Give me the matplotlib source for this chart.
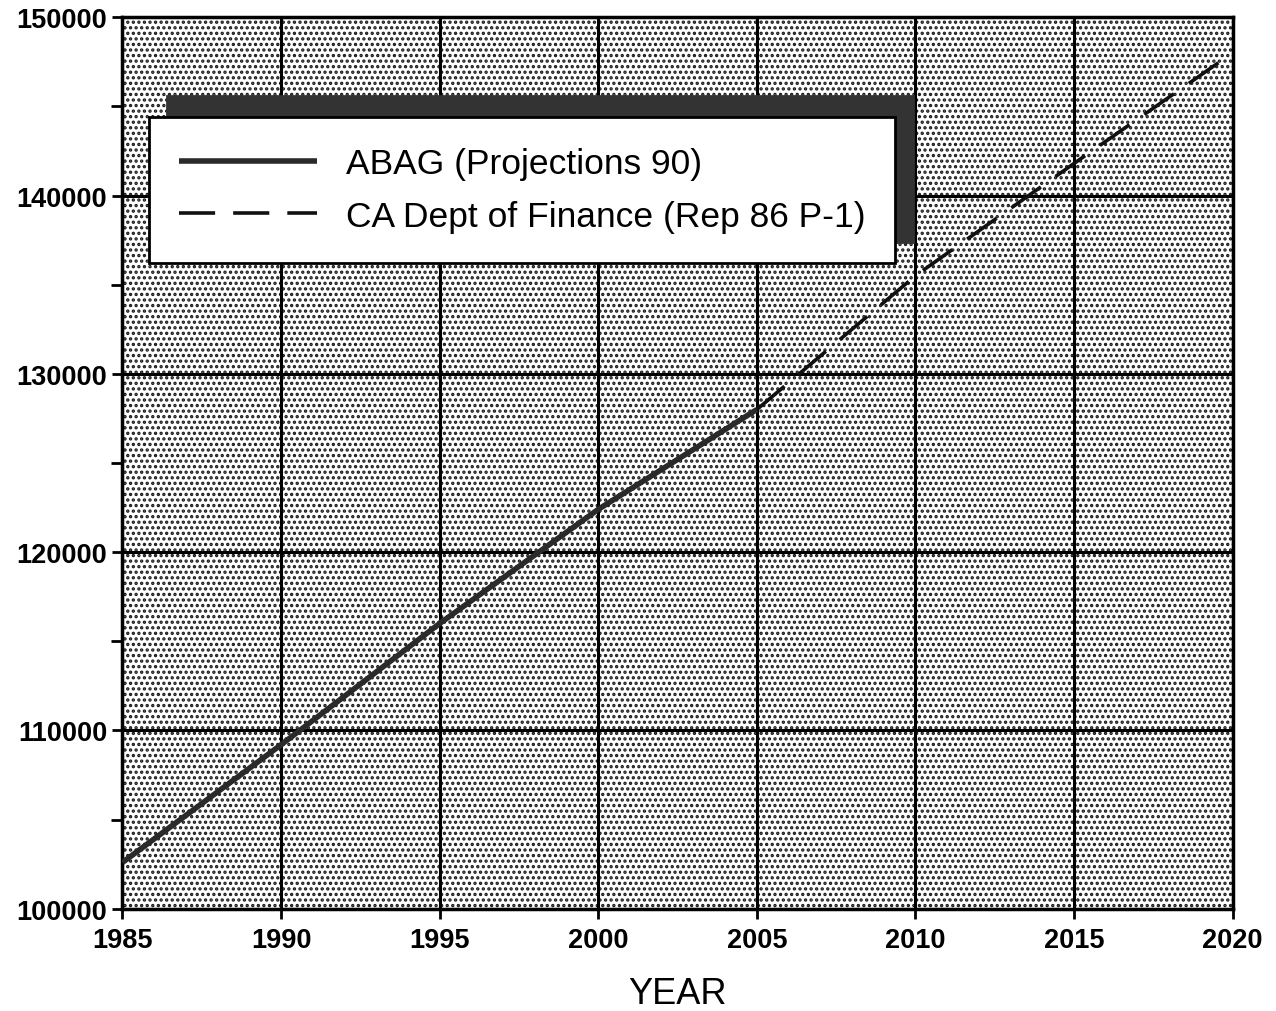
import numpy as np
import matplotlib
matplotlib.use("Agg")
import matplotlib.pyplot as plt
from matplotlib.patches import Rectangle
from matplotlib.ticker import MultipleLocator

plt.rcParams['font.family'] = ['Liberation Sans', 'DejaVu Sans']
plt.rcParams['hatch.linewidth'] = 1.6

# ABAG (Projections 90) - solid
abag_years = [1985, 1990, 1995, 2000, 2005]
abag_pop = [102600, 109200, 116000, 122400, 128000]

# CA Dept of Finance (Rep 86 P-1) - dashed
dof_years = [2005, 2010, 2015, 2020]
dof_pop = [128000, 135500, 141800, 148000]

x_ticks = [1985, 1990, 1995, 2000, 2005, 2010, 2015, 2020]
y_ticks = [100000, 110000, 120000, 130000, 140000, 150000]

fig = plt.figure(figsize=(12.76, 10.12), dpi=100)
ax = fig.add_axes([0.096, 0.101, 0.870, 0.881])

# stippled background
bg = Rectangle((0, 0), 1, 1, transform=ax.transAxes, facecolor='white',
               edgecolor='#1a1a1a', hatch='...', linewidth=0, zorder=0)
ax.add_patch(bg)

ax.set_xlim(1985, 2020)
ax.set_ylim(100000, 150000)
ax.set_xticks(x_ticks)
ax.set_yticks(y_ticks)
ax.yaxis.set_minor_locator(MultipleLocator(5000))
ax.grid(True, which='major', color='black', linewidth=2.2, zorder=1)
ax.set_axisbelow(True)

ax.plot(abag_years, abag_pop, color='#2a2a2a', linewidth=4.0, solid_capstyle='butt',
        label='ABAG (Projections 90)', zorder=3)
ax.plot(dof_years, dof_pop, color='#111111', linewidth=2.6, dashes=(10, 5),
        label='CA Dept of Finance (Rep 86 P-1)', zorder=3)

for s in ax.spines.values():
    s.set_linewidth(2.5)
ax.tick_params(axis='both', which='major', direction='inout', length=14, width=2,
               labelsize=19.5)
ax.tick_params(axis='y', which='minor', direction='out', length=8, width=2)
ax.tick_params(axis='x', pad=6)
ax.tick_params(axis='y', pad=4)
for lbl in ax.get_xticklabels() + ax.get_yticklabels():
    lbl.set_fontweight('bold')

ax.set_xlabel('YEAR', fontsize=26, labelpad=17)

leg = ax.legend(loc='upper left', bbox_to_anchor=(0.024, 0.888), fontsize=25.5,
                frameon=True, fancybox=False, borderpad=0.85, handlelength=3.9,
                handletextpad=0.8, labelspacing=0.55, borderaxespad=0,
                shadow={'ox': 13, 'oy': 15, 'shade': 0.8, 'alpha': 1.0})
leg.get_frame().set_edgecolor('black')
leg.get_frame().set_linewidth(2.0)
leg.get_frame().set_facecolor('white')
leg.get_frame().set_alpha(1)
leg.set_zorder(5)

fig.savefig('out.png', dpi=100, facecolor='white')
